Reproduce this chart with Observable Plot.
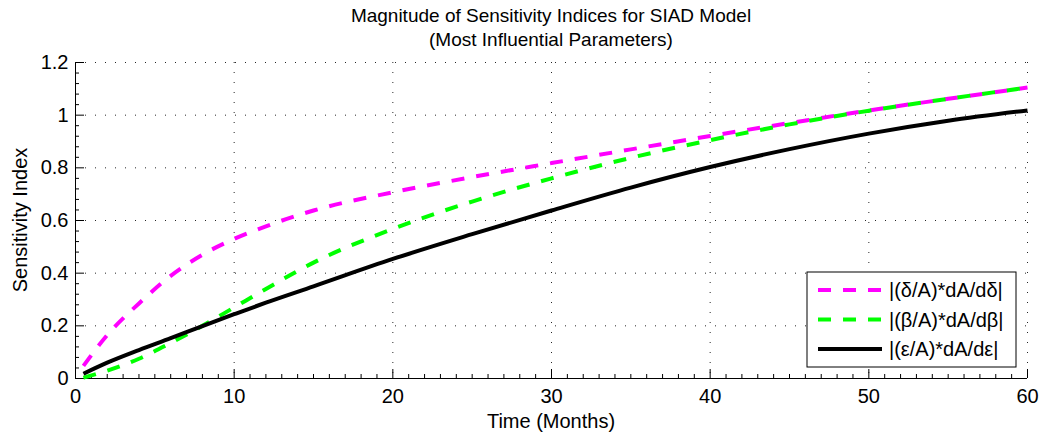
<!DOCTYPE html>
<html>
<head>
<meta charset="utf-8">
<script src="https://cdn.jsdelivr.net/npm/d3@7"></script>
<script src="https://cdn.jsdelivr.net/npm/@observablehq/plot@0.6"></script>
<style>
  html, body { margin: 0; padding: 0; background: #fff; }
  svg { font-family: "Liberation Sans", Arial, sans-serif; }
</style>
</head>
<body>
<div id="chart"></div>
<script>
// ---- data ----
const months   = [0.5, 2, 4, 6, 8, 10, 12, 15, 20, 25, 30, 35, 40, 45, 50, 55, 60];
const deltaIdx = [0.048, 0.165, 0.285, 0.39, 0.47, 0.53, 0.578, 0.638, 0.707, 0.765, 0.818, 0.87, 0.921, 0.97, 1.018, 1.062, 1.105];
const betaIdx  = [0.003, 0.03, 0.075, 0.135, 0.2, 0.27, 0.34, 0.44, 0.568, 0.672, 0.76, 0.838, 0.905, 0.965, 1.017, 1.062, 1.105];
const epsIdx   = [0.018, 0.06, 0.108, 0.153, 0.199, 0.244, 0.288, 0.35, 0.454, 0.548, 0.638, 0.725, 0.803, 0.871, 0.93, 0.979, 1.018];

const seriesNames  = ["|(δ/A)*dA/dδ|", "|(β/A)*dA/dβ|", "|(ε/A)*dA/dε|"];
const seriesValues = [deltaIdx, betaIdx, epsIdx];
const seriesColors = ["#ff00ff", "#00ff00", "#000000"];
const seriesDash   = ["13,12", "13,12", null];

const xTicks = [0, 10, 20, 30, 40, 50, 60];
const yTicks = [0, 0.2, 0.4, 0.6, 0.8, 1.0, 1.2];
const xMinor = d3.range(0, 61, 1).filter(v => v % 10 !== 0);
const yMinor = d3.range(0, 31, 1).map(i => +(i * 0.04).toFixed(2)).filter((v, i) => i % 5 !== 0);

const titleLines = ["Magnitude of Sensitivity Indices for SIAD Model", "(Most Influential Parameters)"];
const xLabel = "Time (Months)";
const yLabel = "Sensitivity Index";

// ---- build table ----
const rows = [];
seriesNames.forEach((name, s) => {
  months.forEach((m, i) => rows.push({series: name, t: m, v: seriesValues[s][i]}));
});

const W = 1042, H = 434;
const mL = 75, mR = 15, mT = 62, mB = 56;
const frameH = H - mT - mB, frameW = W - mL - mR;
const font = 20;

const lineMarks = seriesNames.map((name, s) =>
  Plot.line(rows.filter(r => r.series === name), {
    x: "t", y: "v", stroke: seriesColors[s], strokeWidth: 4,
    strokeDasharray: seriesDash[s], curve: "monotone-x", strokeLinecap: "butt"
  })
);

const gridStyle = {stroke: "#000", strokeOpacity: 0.85, strokeDasharray: "1,9", strokeWidth: 1};

const chart = Plot.plot({
  width: W, height: H,
  marginLeft: mL, marginRight: mR, marginTop: mT, marginBottom: mB,
  x: {domain: [0, 60]},
  y: {domain: [0, 1.2]},
  style: {fontFamily: "'Liberation Sans', Arial, sans-serif", fontSize: font + "px", color: "#000", background: "#fff"},
  marks: [
    Plot.gridX(xTicks, {...gridStyle}),
    Plot.gridY(yTicks, {...gridStyle}),
    // inward major ticks
    Plot.tickX(xTicks, {x: d => d, insetTop: frameH - 9, stroke: "#000"}),
    Plot.tickY(yTicks, {y: d => d, insetRight: frameW - 9, stroke: "#000"}),
    // inward minor ticks
    Plot.tickX(xMinor, {x: d => d, insetTop: frameH - 4, stroke: "#000"}),
    Plot.tickY(yMinor, {y: d => d, insetRight: frameW - 4, stroke: "#000"}),
    Plot.axisX(xTicks, {tickSize: 0, tickPadding: 10, label: null, fontSize: font}),
    Plot.axisY(yTicks, {tickSize: 0, tickPadding: 7, label: null, fontSize: font, tickFormat: d => d3.format("")(+d.toFixed(1))}),
    Plot.ruleX([0], {stroke: "#000"}),
    Plot.ruleY([0], {stroke: "#000"}),
    ...lineMarks
  ]
});

document.getElementById("chart").appendChild(chart);

// ---- title, axis labels, legend ----
const svg = d3.select(chart);
const cx = mL + frameW / 2;
svg.append("text").attr("x", cx).attr("y", 22).attr("text-anchor", "middle")
  .attr("font-size", 19).attr("fill", "#000").text(titleLines[0]);
svg.append("text").attr("x", cx).attr("y", 46).attr("text-anchor", "middle")
  .attr("font-size", 19).attr("fill", "#000").text(titleLines[1]);
svg.append("text").attr("x", cx).attr("y", 428).attr("text-anchor", "middle")
  .attr("font-size", font).attr("fill", "#000").text(xLabel);
svg.append("text").attr("transform", `translate(27,${mT + frameH / 2}) rotate(-90)`)
  .attr("text-anchor", "middle").attr("font-size", font).attr("fill", "#000").text(yLabel);

const lg = svg.append("g");
lg.append("rect").attr("x", 807).attr("y", 272).attr("width", 209).attr("height", 95)
  .attr("fill", "#fff").attr("stroke", "#000").attr("stroke-width", 1);
seriesNames.forEach((name, s) => {
  const yy = 290 + s * 29.5;
  lg.append("line").attr("x1", 818).attr("x2", 882).attr("y1", yy).attr("y2", yy)
    .attr("stroke", seriesColors[s]).attr("stroke-width", 4)
    .attr("stroke-dasharray", seriesDash[s]);
  lg.append("text").attr("x", 889).attr("y", yy).attr("dy", "0.35em")
    .attr("text-anchor", "start")
    .attr("font-size", font).attr("fill", "#000").text(name);
});
</script>
</body>
</html>
